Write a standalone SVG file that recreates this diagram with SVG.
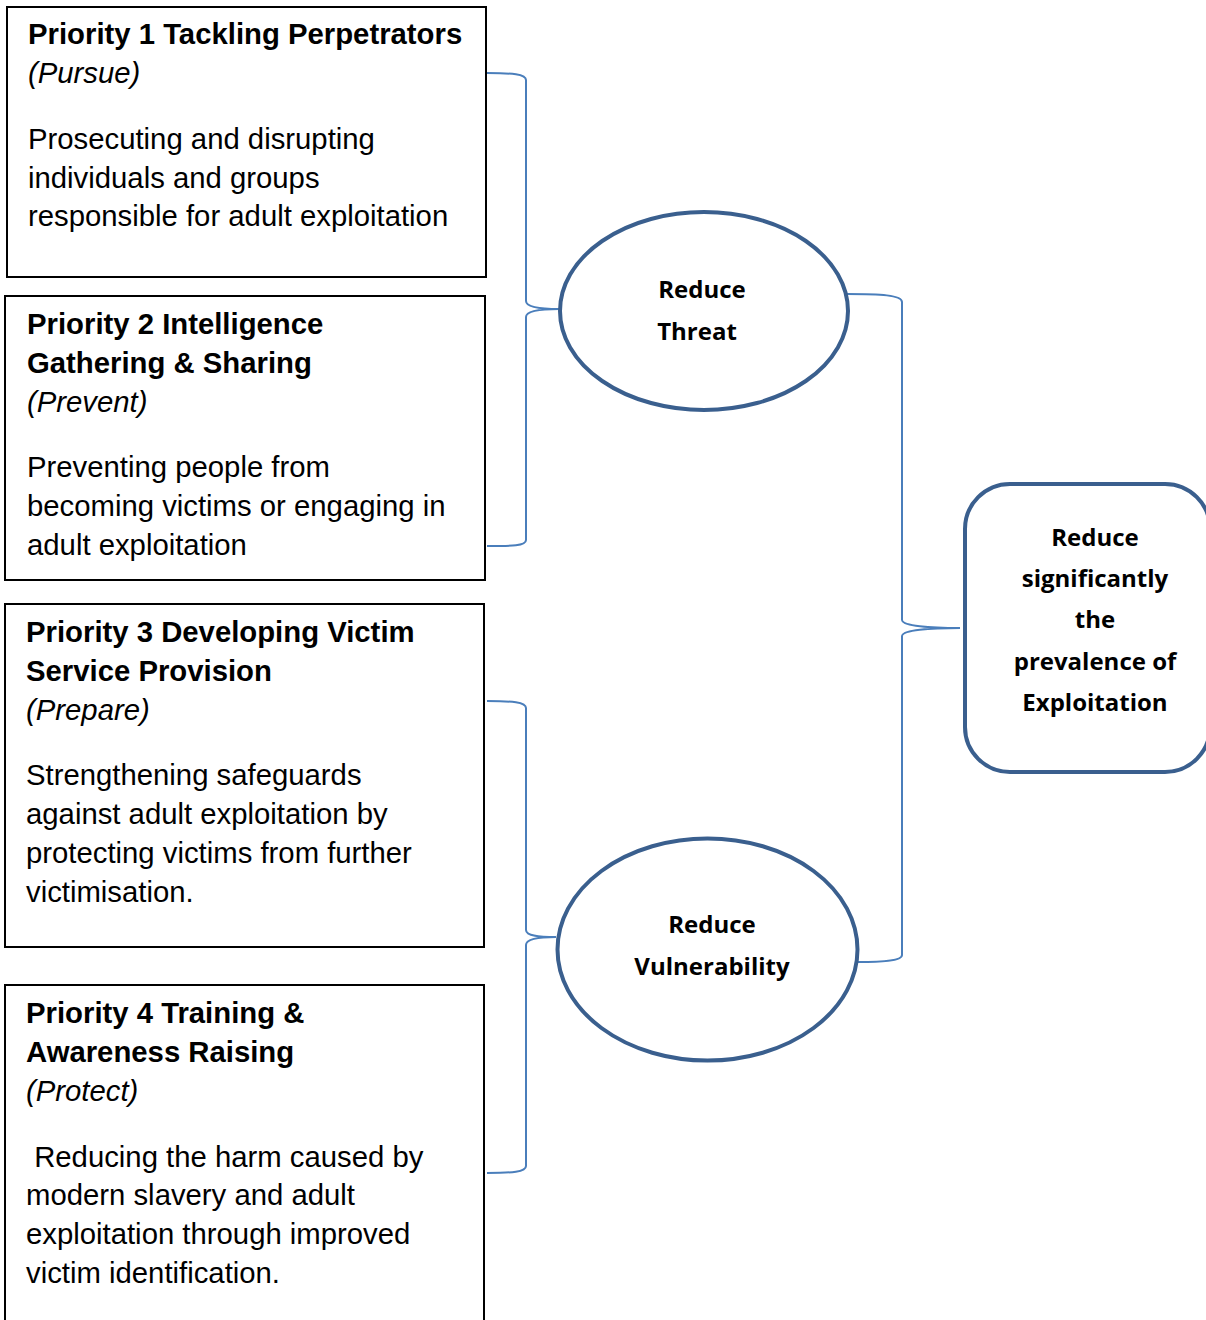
<svg xmlns="http://www.w3.org/2000/svg" width="1206" height="1320" viewBox="0 0 1206 1320">
<style>
.box{fill:#fff;stroke:#000;stroke-width:2}
.node{fill:#fff;stroke:#3A5F8E;stroke-width:4}
.conn{fill:none;stroke:#4A7EBB;stroke-width:2}
.t{font-family:"Liberation Sans",Arial,sans-serif;font-size:29.3px;fill:#000}
.b{font-weight:bold}
.i{font-style:italic}
.c{font-family:"Open Sans","Liberation Sans",sans-serif;font-weight:bold;font-size:24px;fill:#000;text-anchor:middle}
</style>
<rect width="1206" height="1320" fill="#fff"/>
<g id="connectors">
<path class="conn" d="M487,73 C512,73 526,74 526,80 L526,301 C526,307 540,309 559,309 C540,309 526,311 526,317 L526,540 C526,546 512,546 487,546"/>
<path class="conn" d="M487,701 C512,701 526,702 526,708 L526,930 C526,936 540,937 556,937 C540,937 526,939 526,945 L526,1166 C526,1172 512,1173 487,1173"/>
<path class="conn" d="M847,294 C880,294 902,295 902,302 L902,620 C902,626 930,628 960,628 C930,628 902,630 902,636 L902,955 C902,961 880,962 858,962"/>
</g>
<g id="priority1">
<rect class="box" x="7" y="7" width="479" height="270"/>
<text class="t b" x="28" y="44">Priority 1 Tackling Perpetrators</text>
<text class="t i" x="28" y="83">(Pursue)</text>
<text class="t" x="28" y="149">Prosecuting and disrupting</text>
<text class="t" x="28" y="188">individuals and groups</text>
<text class="t" x="28" y="226">responsible for adult exploitation</text>
</g>
<g id="priority2">
<rect class="box" x="5" y="296" width="480" height="284"/>
<text class="t b" x="27" y="334">Priority 2 Intelligence</text>
<text class="t b" x="27" y="373">Gathering &amp; Sharing</text>
<text class="t i" x="27" y="412">(Prevent)</text>
<text class="t" x="27" y="477">Preventing people from</text>
<text class="t" x="27" y="516">becoming victims or engaging in</text>
<text class="t" x="27" y="555">adult exploitation</text>
</g>
<g id="priority3">
<rect class="box" x="5" y="604" width="479" height="343"/>
<text class="t b" x="26" y="642">Priority 3 Developing Victim</text>
<text class="t b" x="26" y="681">Service Provision</text>
<text class="t i" x="26" y="720">(Prepare)</text>
<text class="t" x="26" y="785">Strengthening safeguards</text>
<text class="t" x="26" y="824">against adult exploitation by</text>
<text class="t" x="26" y="863">protecting victims from further</text>
<text class="t" x="26" y="902">victimisation.</text>
</g>
<g id="priority4">
<rect class="box" x="5" y="985" width="479" height="345"/>
<text class="t b" x="26" y="1023">Priority 4 Training &amp;</text>
<text class="t b" x="26" y="1062">Awareness Raising</text>
<text class="t i" x="26" y="1101">(Protect)</text>
<text class="t" x="26" y="1167" xml:space="preserve"> Reducing the harm caused by</text>
<text class="t" x="26" y="1205">modern slavery and adult</text>
<text class="t" x="26" y="1244">exploitation through improved</text>
<text class="t" x="26" y="1283">victim identification.</text>
</g>
<g id="reduce-threat">
<ellipse class="node" cx="704" cy="311" rx="144" ry="99"/>
<text class="c" x="702" y="298">Reduce</text>
<text class="c" x="697" y="340">Threat</text>
</g>
<g id="reduce-vulnerability">
<ellipse class="node" cx="707.5" cy="949.5" rx="150" ry="111"/>
<text class="c" x="712" y="933">Reduce</text>
<text class="c" x="712" y="975">Vulnerability</text>
</g>
<g id="reduce-prevalence">
<rect class="node" x="965" y="484" width="245" height="288" rx="45" ry="45"/>
<text class="c" x="1095" y="546">Reduce</text>
<text class="c" x="1095" y="587">significantly</text>
<text class="c" x="1095" y="628">the</text>
<text class="c" x="1095" y="670">prevalence of</text>
<text class="c" x="1095" y="711">Exploitation</text>
</g>
</svg>
